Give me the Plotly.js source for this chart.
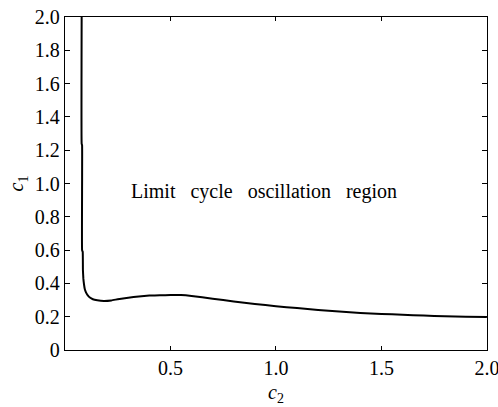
<!DOCTYPE html>
<html>
<head>
<meta charset="utf-8">
<script src="https://cdn.plot.ly/plotly-3.0.1.min.js"></script>
<style>html,body{margin:0;padding:0;background:#fff;}#chart{width:498px;height:407px;}</style>
</head>
<body>
<div id="chart"></div>
<script>
// Boundary curve c1(c2)
var c2 = [0.079, 0.079, 0.081, 0.081, 0.084, 0.085, 0.087, 0.090, 0.094, 0.100, 0.108, 0.118, 0.132, 0.153, 0.184, 0.220, 0.250, 0.300, 0.350, 0.400, 0.450, 0.500, 0.550, 0.600, 0.700, 0.800, 0.900, 1.000, 1.100, 1.200, 1.300, 1.400, 1.500, 1.600, 1.700, 1.800, 1.900, 2.000];
var c1 = [2.000, 1.240, 1.230, 0.600, 0.590, 0.480, 0.430, 0.395, 0.365, 0.345, 0.328, 0.315, 0.305, 0.299, 0.295, 0.298, 0.305, 0.314, 0.322, 0.327, 0.329, 0.330, 0.330, 0.325, 0.308, 0.292, 0.277, 0.263, 0.252, 0.241, 0.231, 0.223, 0.217, 0.212, 0.207, 0.203, 0.200, 0.198];

var xTickVals = [0.5, 1.0, 1.5, 2.0];
var xTickText = ["0.5", "1.0", "1.5", "2.0"];
var yTickVals = [0, 0.2, 0.4, 0.6, 0.8, 1.0, 1.2, 1.4, 1.6, 1.8, 2.0];
var yTickText = ["0", "0.2", "0.4", "0.6", "0.8", "1.0", "1.2", "1.4", "1.6", "1.8", "2.0"];

var regionLabel = "Limit\u00a0\u00a0 cycle\u00a0\u00a0 oscillation\u00a0\u00a0 region";

var fam = "'Liberation Serif', 'Times New Roman', serif";
var font = {family: fam, size: 20, color: "#000"};

var trace = {
  x: c2, y: c1, type: "scatter", mode: "lines",
  line: {color: "#000", width: 2, shape: "spline", smoothing: 0.3},
  hoverinfo: "skip"
};

var layout = {
  width: 498, height: 407,
  margin: {l: 64.5, r: 11.3, t: 16.7, b: 56.5},
  paper_bgcolor: "#fff", plot_bgcolor: "#fff",
  showlegend: false,
  font: font,
  xaxis: {
    range: [0, 2.0005], tickvals: xTickVals, ticktext: xTickText,
    ticks: "inside", ticklen: 4, tickwidth: 1, tickcolor: "#000",
    showline: true, linecolor: "#000", linewidth: 1.2, mirror: "ticks",
    showgrid: false, zeroline: false, fixedrange: true,
    tickfont: font, ticklabeloverflow: "allow",
    title: {text: "<i>c</i><sub>2</sub>", font: {family: fam, size: 20, color: "#000"}, standoff: 6}
  },
  yaxis: {
    range: [0, 2.0005], tickvals: yTickVals, ticktext: yTickText,
    ticks: "inside", ticklen: 5, tickwidth: 1, tickcolor: "#000",
    showline: true, linecolor: "#000", linewidth: 1.2, mirror: "ticks",
    showgrid: false, zeroline: false, fixedrange: true,
    tickfont: font, ticklabeloverflow: "allow",
    title: {text: "<i>c</i><sub>1</sub>", font: {family: fam, size: 20, color: "#000"}, standoff: 5}
  },
  annotations: [{
    x: 0.943, y: 0.955, xref: "x", yref: "y", text: regionLabel, showarrow: false,
    font: {family: fam, size: 20, color: "#000"}, xanchor: "center", yanchor: "middle"
  }]
};

Plotly.newPlot("chart", [trace], layout, {displayModeBar: false, staticPlot: true});
</script>
</body>
</html>
